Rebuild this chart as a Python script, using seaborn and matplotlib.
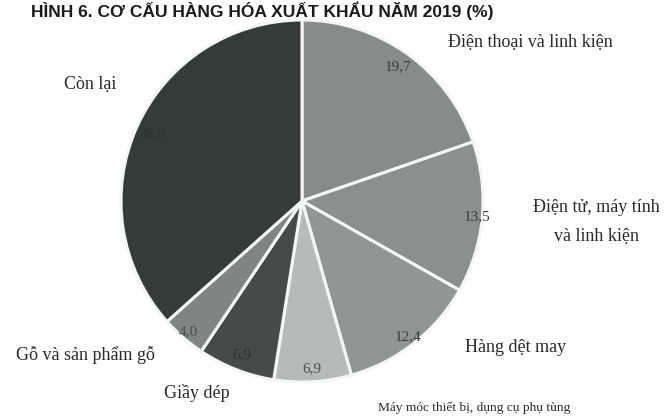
import matplotlib
matplotlib.use("Agg")
import matplotlib.pyplot as plt
import seaborn as sns
import numpy as np

# ---- data ----
categories = ["Điện thoại và linh kiện", "Điện tử, máy tính\nvà linh kiện", "Hàng dệt may",
              "Máy móc thiết bị, dụng cụ phụ tùng", "Giầy dép", "Gỗ và sản phẩm gỗ", "Còn lại"]
values = [19.7, 13.5, 12.4, 6.9, 6.9, 4.0, 36.6]
value_labels = ["19,7", "13,5", "12,4", "6,9", "6,9", "4,0", "36,6"]
title = "HÌNH 6. CƠ CẤU HÀNG HÓA XUẤT KHẨU NĂM 2019 (%)"

# ---- style ----
sns.set_theme(style="white")
plt.rcParams["font.family"] = ["Liberation Serif", "DejaVu Serif"]

colors = ["#878c89", "#8b8f8d", "#929693", "#b7bbb8", "#454c48", "#808581", "#333c38"]

W, H = 664, 418
fig = plt.figure(figsize=(W / 100, H / 100), dpi=100)
fig.patch.set_facecolor("white")

cx, cy, r = 302, 201, 181
ax = fig.add_axes([(cx - r) / W, (H - cy - r) / H, 2 * r / W, 2 * r / H])
wedges, _ = ax.pie(values, startangle=90, counterclock=False, colors=colors,
                   radius=1.0, wedgeprops=dict(edgecolor="#f4f6f5", linewidth=2.2))
ax.set_xlim(-1, 1)
ax.set_ylim(-1, 1)
ax.set_aspect("equal")
ax.axis("off")

# value labels inside slices
val_r = [0.91, 0.97, 0.95, 0.93, 0.91, 0.96, 0.91]
val_col = ["#3a3f3c", "#3a3f3c", "#3a3f3c", "#4a504c", "#2c3330", "#4a504c", "#2a322f"]
for w, lab, rr, c in zip(wedges, value_labels, val_r, val_col):
    a = np.deg2rad((w.theta1 + w.theta2) / 2)
    ax.text(rr * np.cos(a), rr * np.sin(a), lab, ha="center", va="center",
            fontsize=11, color=c)

# category labels (pixel positions in the figure)
label_pos = [(530, 43), (596, 222), (516, 348), (474, 408), (197, 393), (85, 355), (90, 85)]
label_size = [13, 13, 13, 9.6, 13, 13, 13]
for lab, (px, py), fs in zip(categories, label_pos, label_size):
    fig.text(px / W, 1 - py / H, lab, ha="center", va="center", fontsize=fs,
             color="#2a2a2a", linespacing=1.95)

fig.text(262 / W, 1 - 17 / H, title, ha="center", va="baseline", fontsize=12.5,
         fontweight="bold", color="#1a1a1a", family=["Liberation Sans", "DejaVu Sans"])

fig.savefig("out.png", dpi=100)
